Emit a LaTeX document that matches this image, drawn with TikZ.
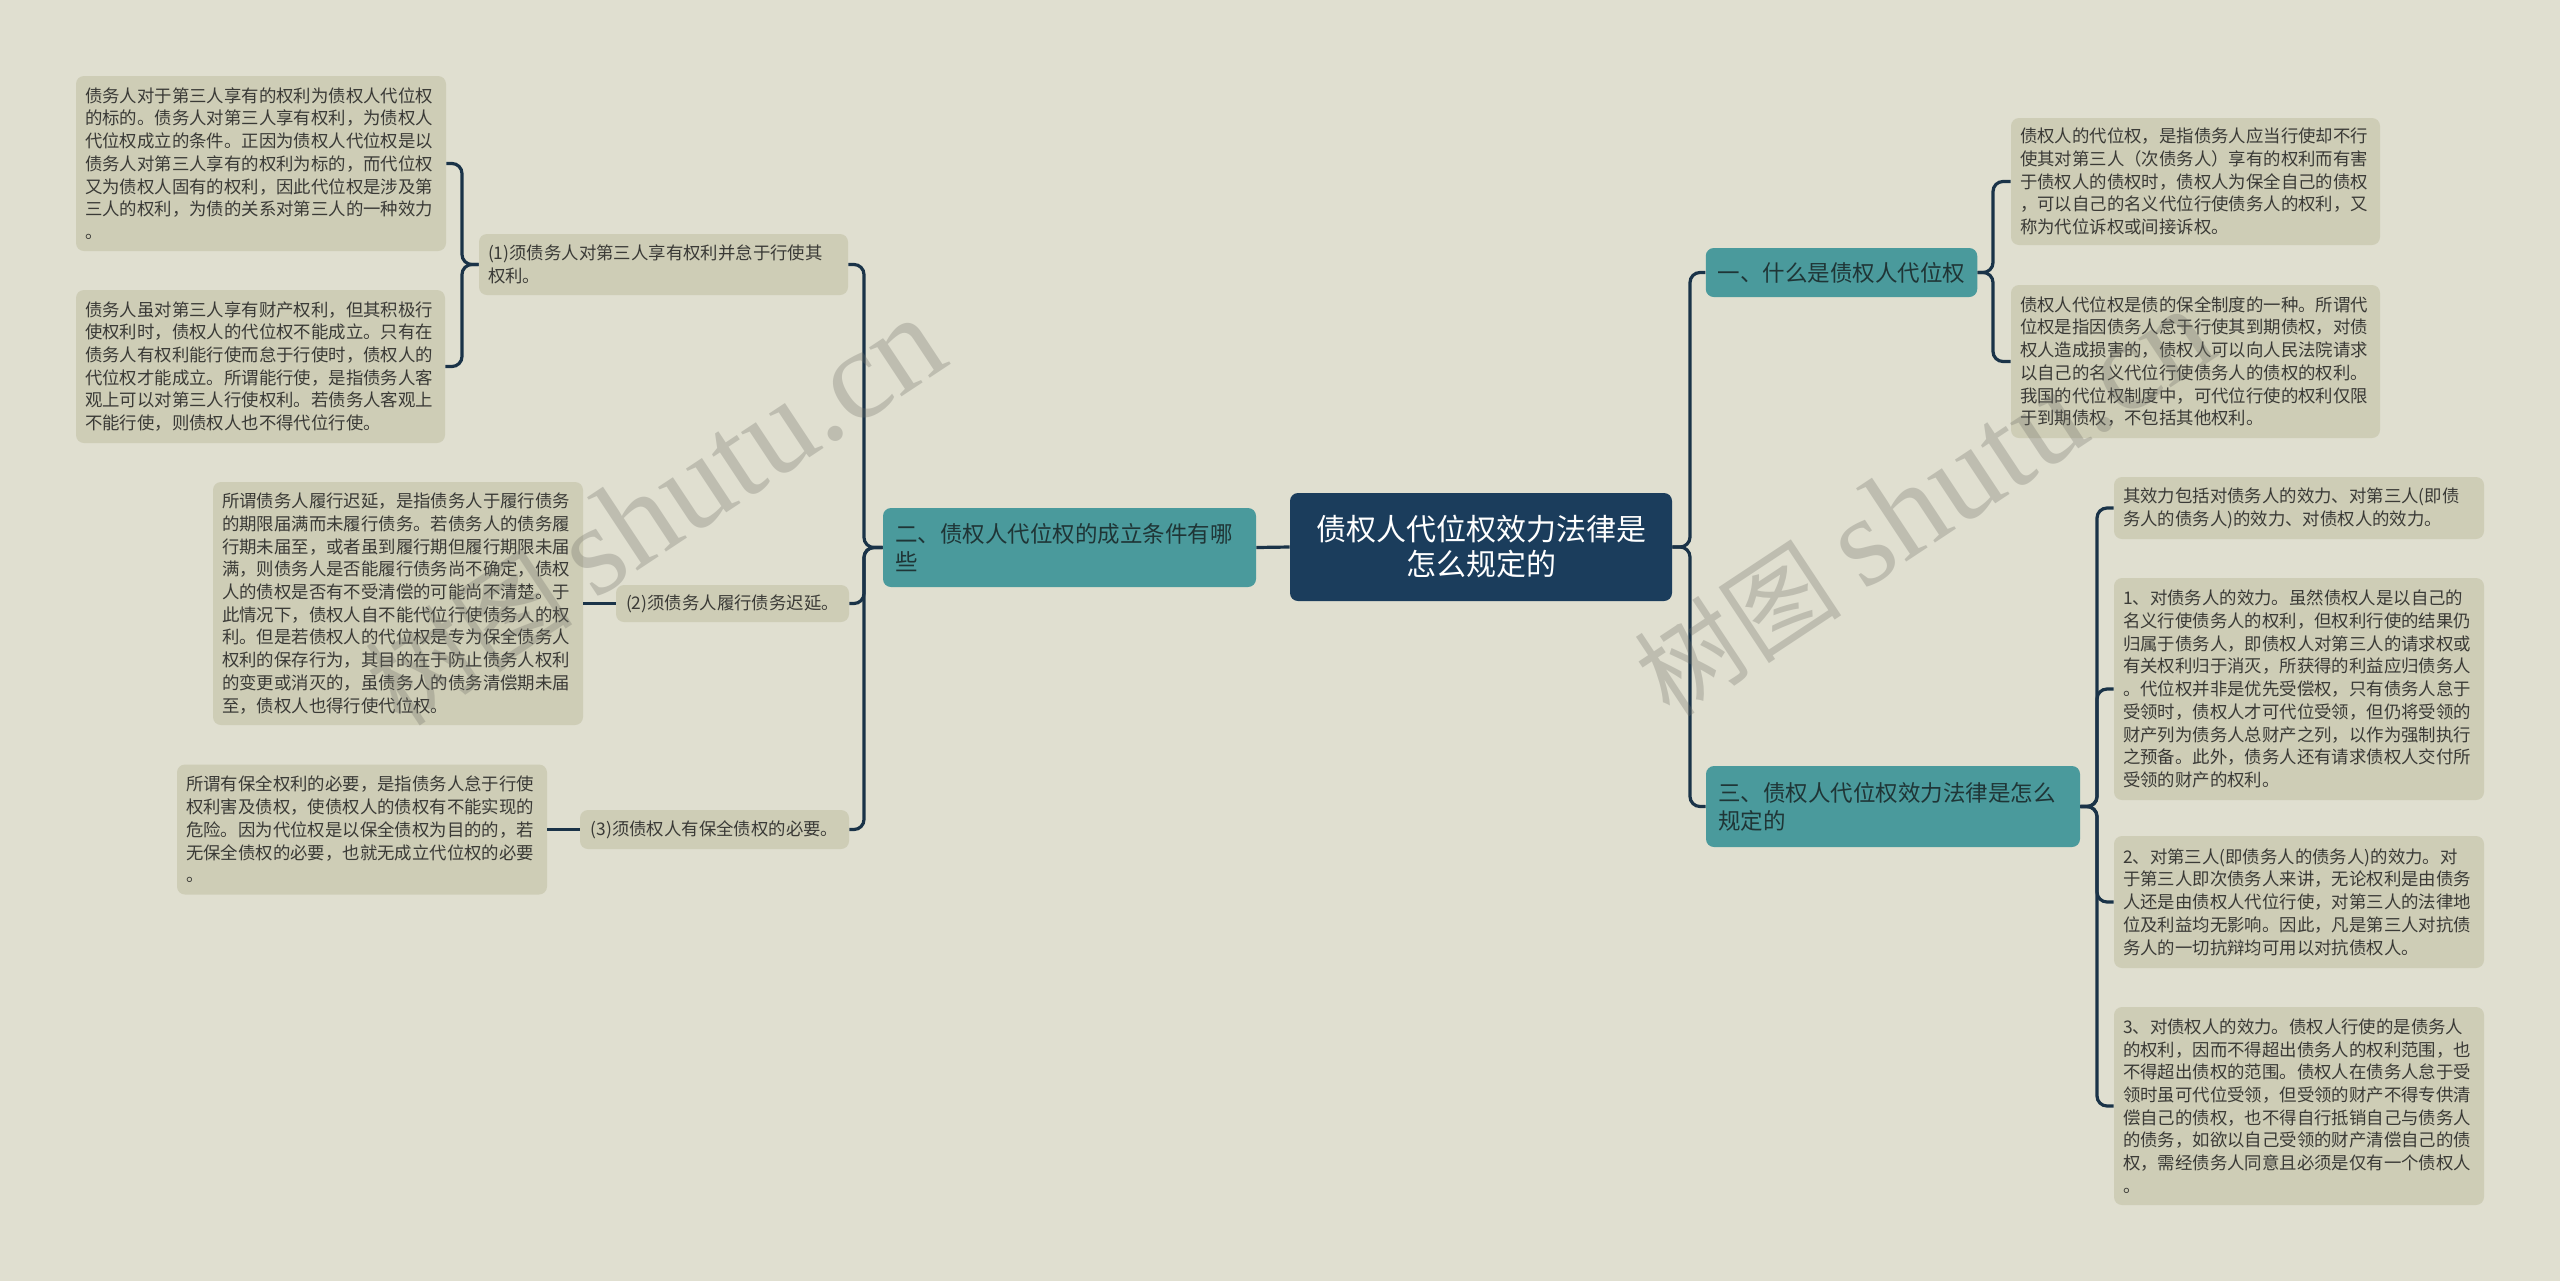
\documentclass[tikz,border=0pt]{standalone}
\usepackage{fontspec}
\newfontfamily\cjk{Noto Sans CJK SC}
\newfontfamily\wmserif{Liberation Serif}
\definecolor{bgc}{HTML}{E0DFD0}
\definecolor{leafc}{HTML}{CECDB6}
\definecolor{leaftext}{HTML}{3A3A36}
\definecolor{tealc}{HTML}{4A9A9C}
\definecolor{tealtext}{HTML}{1F3536}
\definecolor{rootc}{HTML}{1B3D5C}
\definecolor{linec}{HTML}{1A3348}
\definecolor{wmc}{HTML}{707068}
\begin{document}
\begin{tikzpicture}[x=0.5pt, y=-0.5pt,
  leaf/.style={fill=leafc, rounded corners=4pt, inner xsep=4.5pt, inner ysep=2pt, align=left, text=leaftext, font=\cjk\fontsize{8.7pt}{11.35pt}\selectfont},
  single/.style={fill=leafc, rounded corners=4pt, inner xsep=4.5pt, inner ysep=2pt, align=center, text=leaftext, font=\cjk\fontsize{8.7pt}{11.35pt}\selectfont},
  branch/.style={fill=tealc, rounded corners=4pt, inner xsep=6pt, inner ysep=2pt, align=left, text=tealtext, font=\cjk\fontsize{11.25pt}{14pt}\selectfont},
  rootbox/.style={fill=rootc, rounded corners=4pt, inner sep=2pt, align=center, text=white, font=\cjk\fontsize{15pt}{17.5pt}\selectfont},
  conn/.style={draw=linec, line width=1.6pt, rounded corners=5pt},
  wm/.style={rotate=33.5, text=wmc, opacity=0.3, inner sep=0pt}]
\useasboundingbox (0,0) rectangle (2560,1281);
\fill[bgc] (0,0) rectangle (2560,1281);

% root
\node[rootbox, minimum width=191pt, minimum height=54pt] (root) at (1481,547) {债权人代位权效力法律是\\怎么规定的};

% left branch
\node[branch, text width=174.5pt, minimum height=39.5pt] (B2) at (1069.5,547.5) {二、债权人代位权的成立条件有哪\\些};
\node[single, minimum width=184.5pt, minimum height=30.5pt, align=left, text width=175.5pt] (N1) at (663.5,264.5) {(1)须债务人对第三人享有权利并怠于行使其\\权利。};
\node[single, minimum width=116.5pt, minimum height=18.5pt] (N2) at (732.5,603.5) {(2)须债务人履行债务迟延。};
\node[single, minimum width=134.5pt, minimum height=19.5pt] (N3) at (714.5,829.5) {(3)须债权人有保全债权的必要。};

\node[leaf, text width=176pt, minimum height=87.5pt] (L1a) at (261,163.5) {债务人对于第三人享有的权利为债权人代位权\\的标的。债务人对第三人享有权利，为债权人\\代位权成立的条件。正因为债权人代位权是以\\债务人对第三人享有的权利为标的，而代位权\\又为债权人固有的权利，因此代位权是涉及第\\三人的权利，为债的关系对第三人的一种效力\\。};
\node[leaf, text width=175.5pt, minimum height=76.5pt] (L1b) at (260.5,366.5) {债务人虽对第三人享有财产权利，但其积极行\\使权利时，债权人的代位权不能成立。只有在\\债务人有权利能行使而怠于行使时，债权人的\\代位权才能成立。所谓能行使，是指债务人客\\观上可以对第三人行使权利。若债务人客观上\\不能行使，则债权人也不得代位行使。};
\node[leaf, text width=176pt, minimum height=121.5pt] (L2) at (398,603.5) {所谓债务人履行迟延，是指债务人于履行债务\\的期限届满而未履行债务。若债务人的债务履\\行期未届至，或者虽到履行期但履行期限未届\\满，则债务人是否能履行债务尚不确定，债权\\人的债权是否有不受清偿的可能尚不清楚。于\\此情况下，债权人自不能代位行使债务人的权\\利。但是若债权人的代位权是专为保全债务人\\权利的保存行为，其目的在于防止债务人权利\\的变更或消灭的，虽债务人的债务清偿期未届\\至，债权人也得行使代位权。};
\node[leaf, text width=176pt, minimum height=65pt] (L3) at (362,829.5) {所谓有保全权利的必要，是指债务人怠于行使\\权利害及债权，使债权人的债权有不能实现的\\危险。因为代位权是以保全债权为目的的，若\\无保全债权的必要，也就无成立代位权的必要\\。};

% right branches
\node[branch, align=center, minimum width=135.5pt, minimum height=24.5pt] (B1) at (1841.5,272.5) {一、什么是债权人代位权};
\node[branch, text width=175pt, minimum height=40.5pt] (B3) at (1893,806.5) {三、债权人代位权效力法律是怎么\\规定的};

\node[leaf, text width=175.5pt, minimum height=63.5pt] (R1a) at (2195.5,181.5) {债权人的代位权，是指债务人应当行使却不行\\使其对第三人（次债务人）享有的权利而有害\\于债权人的债权时，债权人为保全自己的债权\\，可以自己的名义代位行使债务人的权利，又\\称为代位诉权或间接诉权。};
\node[leaf, text width=175.5pt, minimum height=76.5pt] (R1b) at (2195.5,361.5) {债权人代位权是债的保全制度的一种。所谓代\\位权是指因债务人怠于行使其到期债权，对债\\权人造成损害的，债权人可以向人民法院请求\\以自己的名义代位行使债务人的债权的权利。\\我国的代位权制度中，可代位行使的权利仅限\\于到期债权，不包括其他权利。};

\node[leaf, text width=176pt, minimum height=31pt] (R3a) at (2299,508) {其效力包括对债务人的效力、对第三人(即债\\务人的债务人)的效力、对债权人的效力。};
\node[leaf, text width=176pt, minimum height=111pt] (R3b) at (2299,689) {1、对债务人的效力。虽然债权人是以自己的\\名义行使债务人的权利，但权利行使的结果仍\\归属于债务人，即债权人对第三人的请求权或\\有关权利归于消灭，所获得的利益应归债务人\\。代位权并非是优先受偿权，只有债务人怠于\\受领时，债权人才可代位受领，但仍将受领的\\财产列为债务人总财产之列，以作为强制执行\\之预备。此外，债务人还有请求债权人交付所\\受领的财产的权利。};
\node[leaf, text width=176pt, minimum height=66pt] (R3c) at (2299,902) {2、对第三人(即债务人的债务人)的效力。对\\于第三人即次债务人来讲，无论权利是由债务\\人还是由债权人代位行使，对第三人的法律地\\位及利益均无影响。因此，凡是第三人对抗债\\务人的一切抗辩均可用以对抗债权人。};
\node[leaf, text width=176pt, minimum height=99pt] (R3d) at (2299,1106) {3、对债权人的效力。债权人行使的是债务人\\的权利，因而不得超出债务人的权利范围，也\\不得超出债权的范围。债权人在债务人怠于受\\领时虽可代位受领，但受领的财产不得专供清\\偿自己的债权，也不得自行抵销自己与债务人\\的债务，如欲以自己受领的财产清偿自己的债\\权，需经债务人同意且必须是仅有一个债权人\\。};

% connectors
\draw[conn] (root.west) -- (B2.east);
\coordinate (tL) at (864,547.5);
\draw[conn] (B2.west) -- (tL) |- (N1.east);
\draw[conn] (B2.west) -- (tL) |- (N2.east);
\draw[conn] (B2.west) -- (tL) |- (N3.east);
\coordinate (tN1) at (462,264.5);
\draw[conn] (N1.west) -- (tN1) |- (L1a.east);
\draw[conn] (N1.west) -- (tN1) |- (L1b.east);
\draw[conn] (N2.west) -- (L2.east);
\draw[conn] (N3.west) -- (L3.east);

\coordinate (tR) at (1690,547);
\draw[conn] (root.east) -- (tR) |- (B1.west);
\draw[conn] (root.east) -- (tR) |- (B3.west);
\coordinate (tB1) at (1993,272.5);
\draw[conn] (B1.east) -- (tB1) |- (R1a.west);
\draw[conn] (B1.east) -- (tB1) |- (R1b.west);
\coordinate (tB3) at (2097,806.5);
\draw[conn] (B3.east) -- (tB3) |- (R3a.west);
\draw[conn] (B3.east) -- (tB3) |- (R3b.west);
\draw[conn] (B3.east) -- (tB3) |- (R3c.west);
\draw[conn] (B3.east) -- (tB3) |- (R3d.west);

% watermarks
\node[wm] (wm1) at (655,512) {\cjk\fontsize{52pt}{60pt}\selectfont 树图 \wmserif\fontsize{64pt}{70pt}\selectfont shutu.cn};
\node[wm] (wm2) at (1924,503) {\cjk\fontsize{52pt}{60pt}\selectfont 树图 \wmserif\fontsize{64pt}{70pt}\selectfont shutu.cn};
\end{tikzpicture}
\end{document}
